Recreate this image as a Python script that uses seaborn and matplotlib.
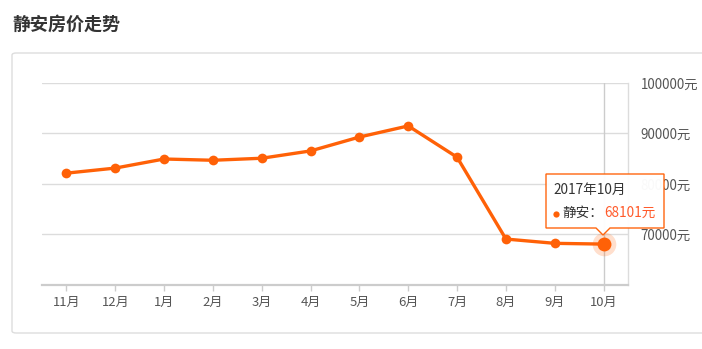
import matplotlib
matplotlib.use("Agg")
import matplotlib.pyplot as plt
import seaborn as sns
import pandas as pd
from matplotlib.patches import FancyBboxPatch, Polygon
from matplotlib.lines import Line2D

months = ["11月", "12月", "1月", "2月", "3月", "4月", "5月", "6月", "7月", "8月", "9月", "10月"]
prices = [82150, 83150, 84950, 84700, 85100, 86550, 89300, 91500, 85300, 69100, 68250, 68101]
yticks = [70000, 80000, 90000, 100000]
ytick_labels = ["70000元", "80000元", "90000元", "100000元"]
title = "静安房价走势"
tip_date = "2017年10月"
tip_series = "静安："
tip_value = "68101元"

sns.set_theme(style="white")
plt.rcParams["font.family"] = ["Noto Sans CJK SC", "DejaVu Sans"]

W, H = 702, 349
fig = plt.figure(figsize=(W / 100, H / 100), dpi=100)

def fx(px):
    return px / W

def fy(py):
    return 1 - py / H

LINE = "#ff6107"

# panel border
panel = FancyBboxPatch((fx(12), fy(333)), fx(720) - fx(12), fy(53) - fy(333),
                       boxstyle="round,pad=0,rounding_size=0.006",
                       transform=fig.transFigure, facecolor="white",
                       edgecolor="#dddddd", linewidth=1.0, zorder=-5)
fig.patches.append(panel)

fig.text(fx(12), fy(24), title, fontsize=13, fontweight="bold", color="#333333",
         va="center", ha="left")

ax = fig.add_axes([fx(42), fy(285), fx(628) - fx(42), fy(83) - fy(285)])
ax.set_facecolor("none")

df = pd.DataFrame({"month": months, "price": prices})
sns.lineplot(data=df, x="month", y="price", sort=False, color=LINE, linewidth=2.4,
             marker="o", markersize=7, markeredgewidth=0, ax=ax, zorder=4)

ax.set_xlim(-0.5, len(months) - 0.5)
ax.set_ylim(60000, 100000)
ax.set_xlabel("")
ax.set_ylabel("")

for v in yticks:
    ax.axhline(v, color="#dcdcdc", linewidth=1.0, zorder=1)

ax.yaxis.tick_right()
ax.set_yticks(yticks)
ax.set_yticklabels(ytick_labels)
ax.tick_params(axis="y", length=0, pad=9, labelsize=9.6, labelcolor="#555555")
ax.set_xticks(range(len(months)))
ax.set_xticklabels(months)
ax.tick_params(axis="x", length=4, width=1, color="#cccccc", pad=4, labelsize=9.4,
               labelcolor="#555555", bottom=True)

for s in ["top", "left"]:
    ax.spines[s].set_visible(False)
ax.spines["bottom"].set_color("#cccccc")
ax.spines["bottom"].set_linewidth(1.6)
ax.spines["right"].set_color("#dcdcdc")
ax.spines["right"].set_linewidth(1.0)

# crosshair at last point
last = len(months) - 1
ax.axvline(last, color="#cccccc", linewidth=1.0, zorder=2)
# highlight last point
ax.plot([last], [prices[-1]], "o", color=LINE, markersize=17, alpha=0.2,
        markeredgewidth=0, zorder=5)
ax.plot([last], [prices[-1]], "o", color=LINE, markersize=10, markeredgewidth=0, zorder=6)

# tooltip
bx0, bx1, by0, by1 = 546, 664, 174, 228
px_tip = 603
pts = [(bx0, by0), (bx1, by0), (bx1, by1), (px_tip + 7, by1), (px_tip, by1 + 7),
       (px_tip - 7, by1), (bx0, by1)]
poly = Polygon([(fx(x), fy(y)) for x, y in pts], closed=True, transform=fig.transFigure,
               facecolor="white", edgecolor=LINE, linewidth=1.0, zorder=10, alpha=0.97)
fig.patches.append(poly)
fig.text(fx(553), fy(190), tip_date, fontsize=9.8, color="#333333", va="center",
         ha="left", zorder=11)
fig.add_artist(Line2D([fx(556)], [fy(213.5)], marker="o", markersize=4.5, color=LINE,
                      markeredgewidth=0, transform=fig.transFigure, zorder=11))
fig.text(fx(562), fy(213), tip_series, fontsize=9.8, color="#333333", va="center",
         ha="left", zorder=11)
fig.text(fx(604), fy(213), tip_value, fontsize=9.8, color="#ff5a2a", va="center",
         ha="left", zorder=11)

fig.savefig("out.png", dpi=100)
